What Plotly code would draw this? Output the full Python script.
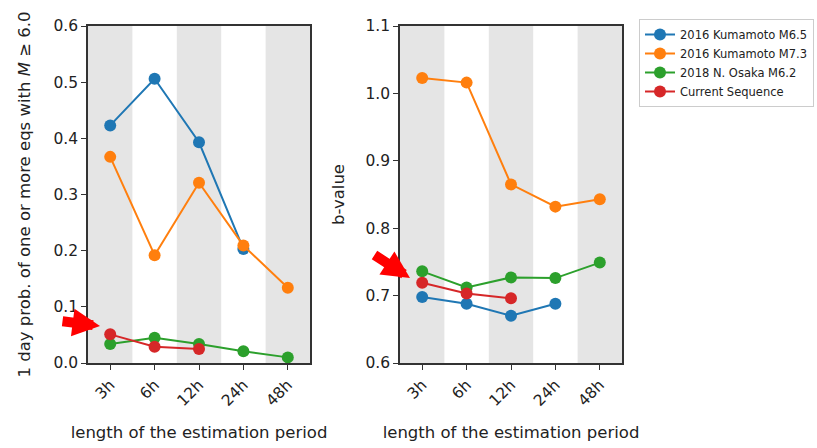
import plotly.graph_objects as go

periods = ["3h", "6h", "12h", "24h", "48h"]
series_names = ["2016 Kumamoto M6.5", "2016 Kumamoto M7.3", "2018 N. Osaka M6.2", "Current Sequence"]
colors = ["#1f77b4", "#ff7f0e", "#2ca02c", "#d62728"]

prob_kum65 = [0.423, 0.506, 0.393, 0.203]
prob_kum73 = [0.367, 0.192, 0.321, 0.209, 0.134]
prob_osaka = [0.034, 0.045, 0.034, 0.021, 0.010]
prob_current = [0.051, 0.029, 0.025]

b_kum65 = [0.698, 0.688, 0.670, 0.688]
b_kum73 = [1.023, 1.016, 0.865, 0.832, 0.843]
b_osaka = [0.736, 0.712, 0.727, 0.726, 0.749]
b_current = [0.719, 0.703, 0.696]

prob_series = [prob_kum65, prob_kum73, prob_osaka, prob_current]
b_series = [b_kum65, b_kum73, b_osaka, b_current]

FONT = "DejaVu Sans"
TXT = "#222222"
fig = go.Figure()

for i, (name, col) in enumerate(zip(series_names, colors)):
    vals = prob_series[i]
    fig.add_trace(go.Scatter(
        x=list(range(len(vals))), y=vals, mode="lines+markers", name=name,
        line=dict(color=col, width=2), marker=dict(color=col, size=12),
        xaxis="x", yaxis="y", legendgroup=name, showlegend=True))
for i, (name, col) in enumerate(zip(series_names, colors)):
    vals = b_series[i]
    fig.add_trace(go.Scatter(
        x=list(range(len(vals))), y=vals, mode="lines+markers", name=name,
        line=dict(color=col, width=2), marker=dict(color=col, size=12),
        xaxis="x2", yaxis="y2", legendgroup=name, showlegend=False))

shapes = []
for xr, yr in (("x", "y domain"), ("x2", "y2 domain")):
    for k in range(0, len(periods), 2):
        shapes.append(dict(type="rect", xref=xr, yref=yr, x0=k - 0.5, x1=k + 0.5,
                           y0=0, y1=1, fillcolor="#e5e5e5", line=dict(width=0), layer="below"))

axis_common = dict(showline=True, linecolor="#333333", linewidth=1.5, mirror=True,
                   ticks="outside", ticklen=5, tickcolor="#333333", showgrid=False,
                   zeroline=False, tickfont=dict(family=FONT, size=15.5, color=TXT))
title_font = dict(family=FONT, size=16.5, color=TXT)

fig.update_layout(
    width=817, height=448,
    margin=dict(l=0, r=0, t=0, b=0, autoexpand=False),
    plot_bgcolor="white", paper_bgcolor="white",
    shapes=shapes,
    xaxis=dict(domain=[88/817, 310/817], range=[-0.5, 4.5], tickvals=list(range(5)),
               ticktext=periods, tickangle=-45, anchor="y",
               title=dict(text="length of the estimation period", font=title_font, standoff=18),
               **axis_common),
    yaxis=dict(domain=[1 - 363/448, 1 - 26/448], range=[0, 0.6], tickvals=[0, 0.1, 0.2, 0.3, 0.4, 0.5, 0.6],
               ticktext=["0.0", "0.1", "0.2", "0.3", "0.4", "0.5", "0.6"], anchor="x",
               title=dict(text="1 day prob. of one or more eqs with <i>M</i> ≥ 6.0", font=title_font, standoff=19),
               **axis_common),
    xaxis2=dict(domain=[400/817, 622/817], range=[-0.5, 4.5], tickvals=list(range(5)),
                ticktext=periods, tickangle=-45, anchor="y2",
                title=dict(text="length of the estimation period", font=title_font, standoff=18),
                **axis_common),
    yaxis2=dict(domain=[1 - 363/448, 1 - 26/448], range=[0.6, 1.1], tickvals=[0.6, 0.7, 0.8, 0.9, 1.0, 1.1],
                ticktext=["0.6", "0.7", "0.8", "0.9", "1.0", "1.1"], anchor="x2",
                title=dict(text="b-value", font=title_font, standoff=17),
                **axis_common),
    legend=dict(x=639/817, y=1 - 19/448, xanchor="left", yanchor="top",
                bordercolor="#cccccc", borderwidth=1, bgcolor="white",
                font=dict(family=FONT, size=11.5, color=TXT),
                tracegroupgap=0, itemwidth=30),
)

arrows = [((100, 326), (61, 321)), ((410, 278), (373, 254))]
for (tx, ty), (sx, sy) in arrows:
    fig.add_annotation(x=tx/817, y=1 - ty/448, xref="paper", yref="paper",
                       ax=sx - tx, ay=sy - ty, axref="pixel", ayref="pixel",
                       showarrow=True, arrowcolor="#ff0000", arrowwidth=10,
                       arrowhead=2, arrowsize=0.55, text="")

fig.write_html("out.html", config={"displayModeBar": False},
               post_script="document.body.style.margin='0';document.body.style.overflow='hidden';")
